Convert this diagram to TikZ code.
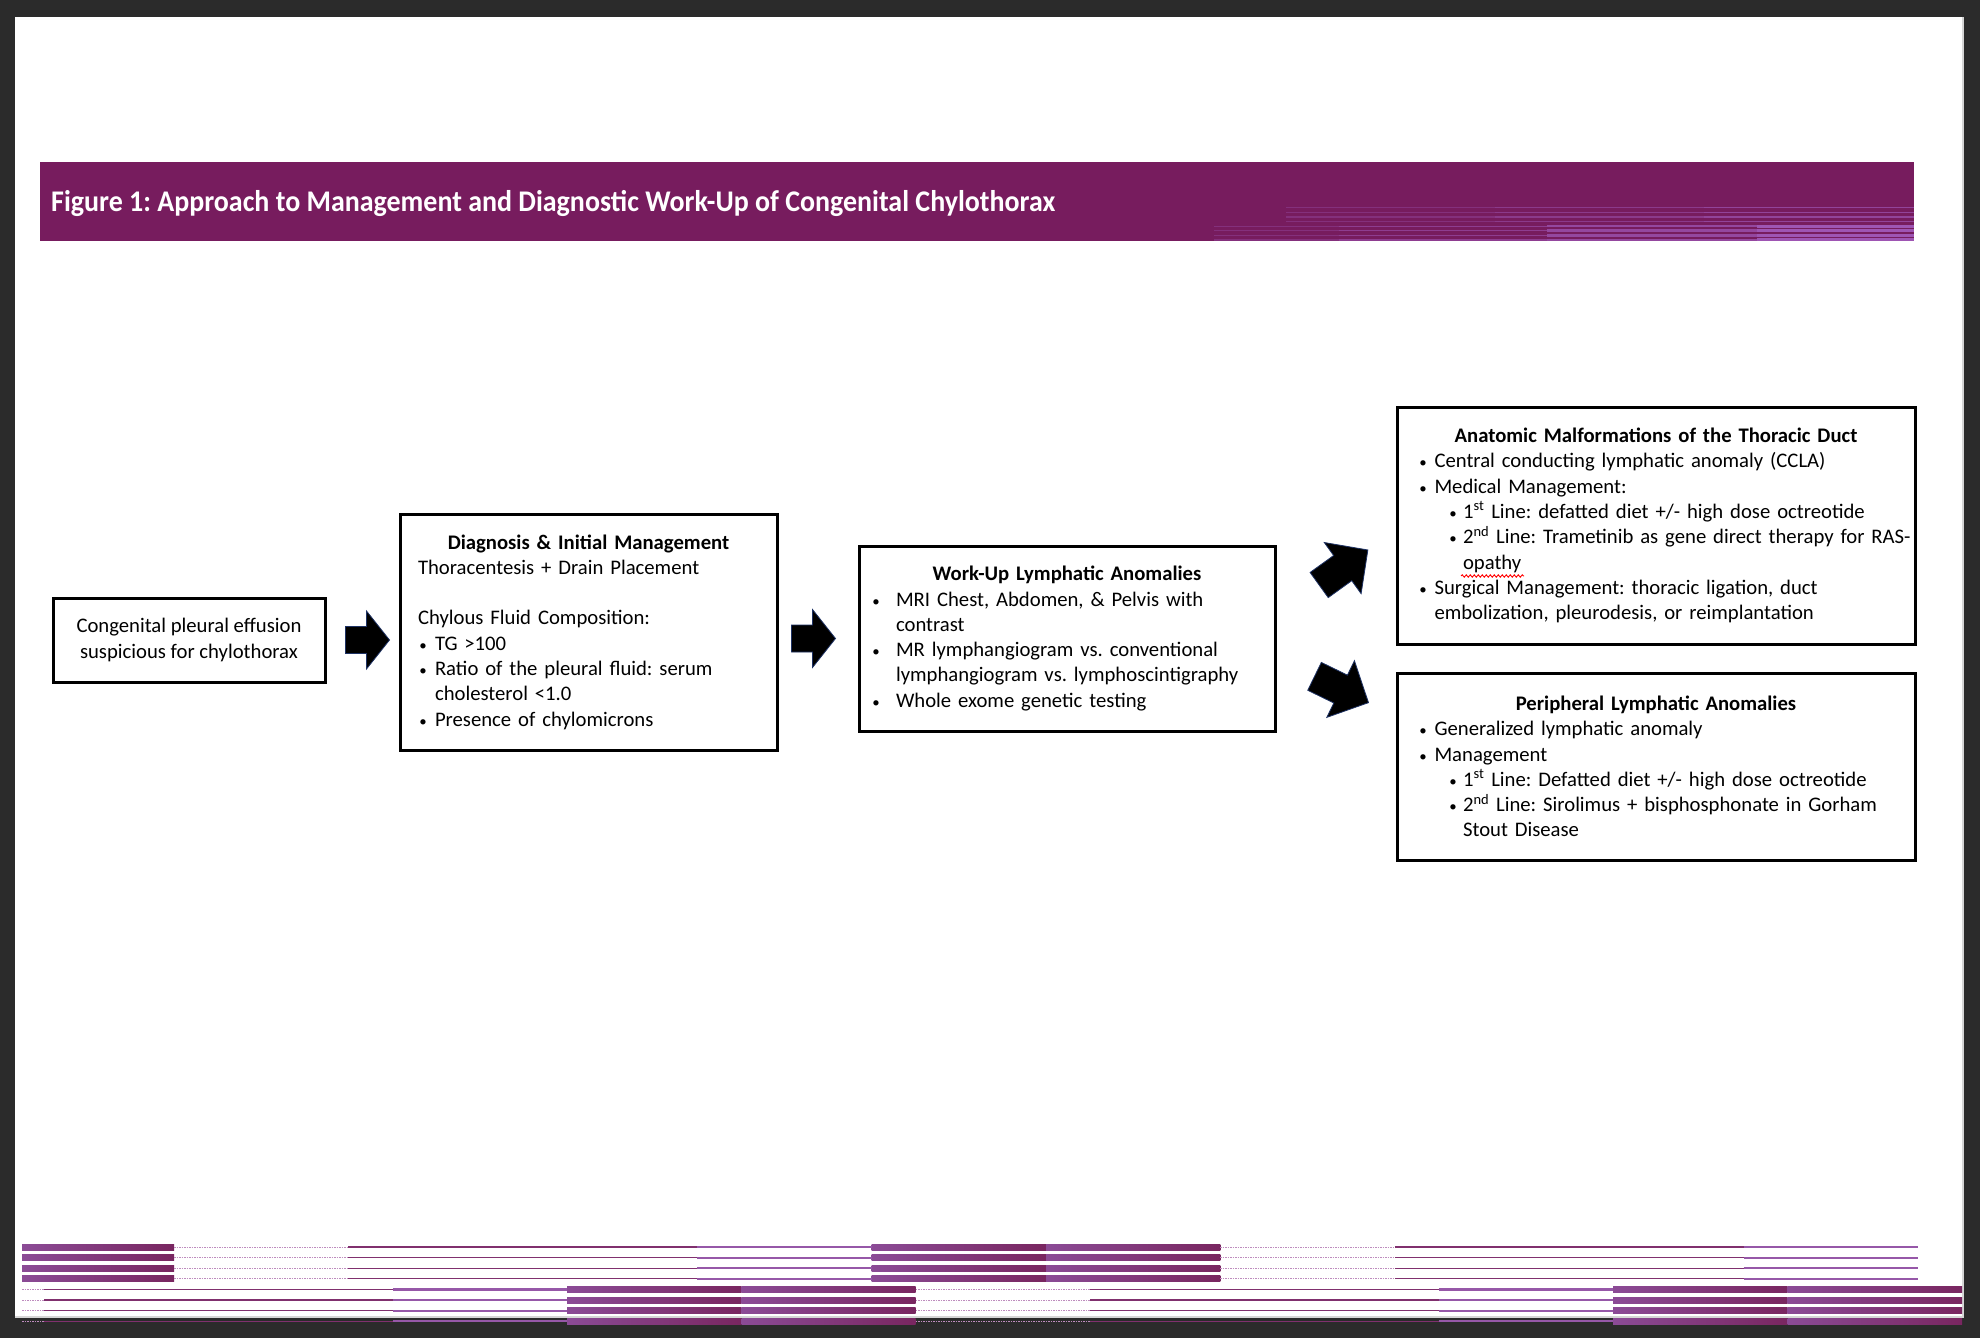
\documentclass[tikz,border=0pt]{standalone}
\usepackage{fontspec}
\setmainfont{Carlito}
\usetikzlibrary{calc,decorations.pathmorphing}

\definecolor{pagedark}{RGB}{43,43,43}
\definecolor{pageedge}{RGB}{214,214,214}
\definecolor{bannerpurple}{RGB}{119,28,94}
\definecolor{bannerstripe}{RGB}{165,95,195}
\definecolor{stripelight}{RGB}{139,75,150}
\definecolor{stripedark}{RGB}{121,38,96}
\definecolor{stripemid}{RGB}{150,88,168}
\definecolor{stripethin}{RGB}{128,48,110}
\definecolor{stripefaint}{RGB}{190,140,190}
\definecolor{arrowedge}{RGB}{30,50,100}

\newcommand{\boxfont}{\fontsize{20.7pt}{25.3pt}\selectfont\frenchspacing}
\newcommand{\bannerfont}{\fontsize{30pt}{36pt}\selectfont\bfseries\frenchspacing}
% bullet line: #1 bullet centre, #2 text indent, #3 text
\newcommand{\bitem}[3]{\par\hangindent=#2\hangafter=1\noindent\hbox to #2{\hskip #1\hbox to 0pt{\hss\scalebox{0.72}{\textbullet}\hss}\hfil}#3}

\begin{document}
\begin{tikzpicture}[
    x=1pt, y=-1pt,
    box/.style={rectangle, draw=black, line width=3pt, inner xsep=10pt, inner ysep=0pt, align=left, font=\boxfont},
    banner/.style={rectangle, fill=bannerpurple, minimum width=1874pt, minimum height=79pt, inner sep=0pt},
    arrowbody/.style={fill=black, draw=arrowedge, line width=0.8pt},
    bstripe/.style={draw=bannerstripe, line width=1.2pt},
    segT/.style={left color=stripelight, right color=stripedark},
    segm/.style={draw=stripemid, line width=2.2pt},
    segt/.style={draw=stripethin, line width=1.2pt},
    segf/.style={draw=stripefaint, line width=1pt, dash pattern=on 1.5pt off 1pt},
    pics/fatarrow/.style n args={4}{code={%
        \filldraw[arrowbody] (-#1/2,-#2) -- ({-#1/2+#4},-#2) -- ({-#1/2+#4},-#3) -- (#1/2,0)
            -- ({-#1/2+#4},#3) -- ({-#1/2+#4},#2) -- (-#1/2,#2) -- cycle;
    }}
]

    % 1. Page
    \fill[pagedark] (0,0) rectangle (1980,1338);
    \fill[white] (15,17) rectangle (1962,1316);
    \draw[pageedge, line width=2pt] (15,1317) -- (1963,1317) -- (1963,17);

    % 2. Banner
    \node[banner] (banner) at (977,201.5) {};
    \node[anchor=base west, text=white, font=\bannerfont, inner sep=0pt] (title) at (51,211)
        {\scalebox{0.932}[1]{Figure 1: Approach to Management and Diagnostic Work-Up of Congenital Chylothorax}};
    \foreach \r [evaluate=\r as \yy using 207.7+4.6*\r] in {0,...,3} {
        \draw[bstripe, opacity=.3] (1286,\yy) -- (1495,\yy);
        \draw[bstripe, opacity=.45] (1495,\yy) -- (1704,\yy);
        \draw[bstripe, opacity=.6] (1704,\yy) -- (1914,\yy);
    }
    \foreach \r [evaluate=\r as \yy using 207.7+4.6*\r] in {4,...,7} {
        \draw[bstripe, opacity=.3] (1214,\yy) -- (1338.5,\yy);
        \draw[bstripe, opacity=.5] (1338.5,\yy) -- (1547,\yy);
        \draw[bstripe, line width=2.5pt, opacity=.65] (1547,\yy) -- (1757,\yy);
        \draw[bstripe, line width=3pt, opacity=.85] (1757,\yy) -- (1914,\yy);
    }

    % 3. Boxes
    \node[box, align=center, minimum width=272pt, minimum height=84pt] (init) at (189,640)
        {Congenital pleural effusion\\suspicious for chylothorax};

    \node[box, inner xsep=18pt, text width=341pt, minimum width=377pt, minimum height=236pt] (diag) at (588.5,632) {%
        {\centering\bfseries Diagnosis \& Initial Management\par}
        Thoracentesis + Drain Placement\par
        \vskip\baselineskip
        Chylous Fluid Composition:
        \bitem{5pt}{17pt}{TG >100}
        \bitem{5pt}{17pt}{Ratio of the pleural fluid: serum\newline cholesterol <1.0}
        \bitem{5pt}{17pt}{Presence of chylomicrons}\par};

    \node[box, text width=396pt, minimum width=416pt, minimum height=185pt] (work) at (1067,638.5) {%
        {\centering\bfseries Work-Up Lymphatic Anomalies\par}
        \bitem{7pt}{27pt}{MRI Chest, Abdomen, \& Pelvis with\newline contrast}
        \bitem{7pt}{27pt}{MR lymphangiogram vs. conventional\newline lymphangiogram vs. lymphoscintigraphy}
        \bitem{7pt}{27pt}{Whole exome genetic testing}\par};

    \node[box, text width=498pt, minimum width=518pt, minimum height=237pt] (anat) at (1656,525.5) {%
        {\centering\bfseries Anatomic Malformations of the Thoracic Duct\par}
        \bitem{16pt}{27.5pt}{Central conducting lymphatic anomaly (CCLA)}
        \bitem{16pt}{27.5pt}{Medical Management:}
        \bitem{46pt}{56pt}{1\textsuperscript{st} Line: defatted diet +/- high dose octreotide}
        \bitem{46pt}{56pt}{\mbox{2\textsuperscript{nd} Line: Trametinib as gene direct therapy for RAS-}\newline opathy}
        \bitem{16pt}{27.5pt}{Surgical Management: thoracic ligation, duct\newline embolization, pleurodesis, or reimplantation}\par};
    \draw[red, line width=0.9pt, decorate, decoration={snake, amplitude=1.2pt, segment length=4pt}] (1461,576) -- (1524,576);

    \node[box, text width=498pt, minimum width=518pt, minimum height=187pt] (peri) at (1656,766.5) {%
        {\centering\bfseries Peripheral Lymphatic Anomalies\par}
        \bitem{16pt}{27.5pt}{Generalized lymphatic anomaly}
        \bitem{16pt}{27.5pt}{Management}
        \bitem{46pt}{56pt}{1\textsuperscript{st} Line: Defatted diet +/- high dose octreotide}
        \bitem{46pt}{56pt}{2\textsuperscript{nd} Line: Sirolimus + bisphosphonate in Gorham\newline Stout Disease}\par};

    % 4. Block arrows
    \pic at ([shift={(41,0)}]init.east) {fatarrow={44}{13.5}{29}{21}};
    \pic at ([shift={(-44,0)}]work.west) {fatarrow={44}{13.5}{29}{21}};
    \pic[rotate=35.75] at ([shift={(67,-71)}]work.east) {fatarrow={60}{15.5}{31.5}{29}};
    \pic[rotate=-26] at ([shift={(65,51)}]work.east) {fatarrow={60}{15.5}{31.5}{29}};

    % 5. Footer stripes
    \foreach \r [evaluate=\r as \yy using 1247+10.6*\r] in {0,...,3} {
        \foreach \a/\b in {22/174, 871.6/1046, 1046/1220.4}
            \shade[segT] (\a,\yy-3) rectangle (\b,\yy+3);
        \foreach \a/\b in {174/348.4, 1220.4/1394.8}
            \draw[segf] (\a,\yy) -- (\b,\yy);
        \foreach \a/\b in {348.4/697.2, 1394.8/1743.6}
            \draw[segt] (\a,\yy) -- (\b,\yy);
        \foreach \a/\b in {697.2/871.6, 1743.6/1918}
            \draw[segm] (\a,\yy) -- (\b,\yy);
    }
    \foreach \r [evaluate=\r as \yy using 1247+10.6*\r] in {4,...,7} {
        \foreach \a/\b in {567.2/741.6, 741.6/915.6, 1613.2/1787.6, 1787.6/1962}
            \shade[segT] (\a,\yy-3) rectangle (\b,\yy+3);
        \foreach \a/\b in {22/44, 915.6/1090}
            \draw[segf] (\a,\yy) -- (\b,\yy);
        \foreach \a/\b in {44/392.8, 1090/1438.8}
            \draw[segt] (\a,\yy) -- (\b,\yy);
        \foreach \a/\b in {392.8/567.2, 1438.8/1613.2}
            \draw[segm] (\a,\yy) -- (\b,\yy);
    }

\end{tikzpicture}
\end{document}
